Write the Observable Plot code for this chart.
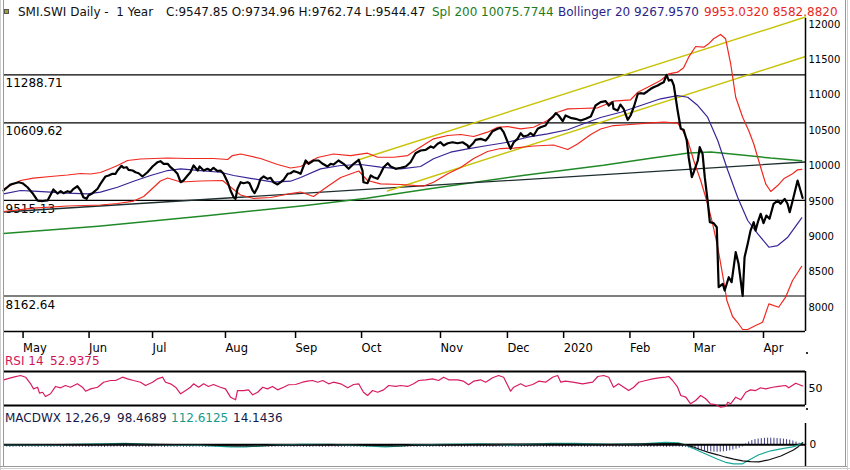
<!DOCTYPE html>
<html><head><meta charset="utf-8">
<script src="https://cdn.jsdelivr.net/npm/d3@7"></script>
<script src="https://cdn.jsdelivr.net/npm/@observablehq/plot@0.6"></script>
<style>
body{margin:0;background:#fff;}
#wrap{position:relative;width:850px;height:470px;overflow:hidden;background:#fff;font-family:"DejaVu Sans",sans-serif;}
.t{position:absolute;white-space:pre;font-size:12px;line-height:12px;z-index:5;}
.box{position:absolute;left:0;}
.ln{position:absolute;z-index:6;}
</style></head><body><div id="wrap"></div>
<script>
// ---- data (x = trading-day index, 0 = first day shown) ----
const monthTicks = [6.2, 27.1, 47.2, 70.3, 92.5, 113.4, 138.4, 159.6, 177.4, 198.4, 218.6, 240.7];
const monthLabels = ["May","Jun","Jul","Aug","Sep","Oct","Nov","Dec","2020","Feb","Mar","Apr"];
const priceTicks = [8000, 8500, 9000, 9500, 10000, 10500, 11000, 11500, 12000];
const levels = [11288.71, 10609.62, 9515.13, 8162.64];

const close = [[0,9654],[2.2,9739],[4.8,9771],[6,9757],[7.6,9700],[9.2,9616],[10.8,9512],[12.4,9505],[14,9515],[15.8,9668],[17.1,9611],[18.1,9644],[19,9616],[20.3,9644],[21.2,9630],[22.2,9678],[23.4,9714],[24.4,9654],[25.3,9559],[26.3,9536],[26.9,9583],[28.2,9616],[29.8,9678],[30.7,9748],[32.3,9852],[33.3,9866],[34.5,9890],[35.5,9890],[36.1,9936],[37.4,10003],[38,9975],[39,9983],[39.6,9946],[40.9,9936],[41.8,9912],[42.8,9898],[44,9852],[45.6,9912],[47.2,9993],[48.8,10054],[49.7,10068],[50.7,10031],[52,10031],[52.9,9983],[53.9,9946],[55.1,9890],[56.1,9771],[57,9795],[58.3,9866],[59.2,9912],[60.2,10007],[61.5,9936],[62.1,9993],[63.4,9936],[64.6,9960],[65.6,9936],[66.5,9975],[67.8,9927],[68.7,9936],[69.7,9890],[71,9771],[71.9,9654],[72.9,9559],[73.5,9536],[74.1,9678],[75.1,9771],[76,9757],[77.3,9771],[77.9,9757],[78.9,9654],[79.5,9616],[80.5,9700],[81.4,9819],[82.4,9852],[83.6,9819],[84.6,9833],[85.5,9771],[86.8,9739],[87.8,9771],[88.7,9805],[90,9890],[90.9,9898],[91.9,9927],[93.1,9912],[94.1,9890],[95.7,10078],[96.6,10031],[98.2,10078],[99.8,10078],[101.1,10031],[102.6,9993],[103.6,10031],[104.5,10021],[106.1,10078],[107.7,10031],[109.3,9960],[110.9,10031],[112.5,10088],[113.7,9936],[114,9771],[115.3,9757],[116.3,9866],[117.2,9842],[118.5,9819],[119.4,9890],[120.4,9983],[121.7,10040],[122.6,9993],[124.2,9960],[125.8,9975],[127.4,9993],[128.9,10054],[130.5,10181],[132.1,10219],[133.7,10229],[135.3,10276],[136.2,10257],[137.5,10314],[138.4,10336],[139.4,10290],[140.7,10322],[142.2,10336],[143.8,10322],[145.4,10336],[147,10290],[147.3,10257],[148.6,10314],[149.5,10370],[151.1,10384],[152.7,10360],[153.6,10407],[154.9,10492],[156.5,10526],[157.4,10540],[158.4,10478],[159.7,10336],[160.6,10243],[161.6,10336],[162.8,10384],[163.8,10464],[164.7,10417],[166,10431],[166.9,10464],[167.9,10431],[169.2,10526],[170.1,10548],[171.7,10572],[172.7,10643],[173.9,10690],[174.9,10746],[175.8,10714],[177.1,10633],[178,10714],[179.6,10681],[181.2,10667],[182.8,10643],[184.4,10667],[186,10700],[187.5,10855],[189.1,10902],[190.7,10916],[191.7,10855],[192.9,10902],[193.2,10808],[194.5,10784],[195.4,10869],[196.4,10808],[197.7,10653],[198.6,10714],[199.6,10831],[200.9,11021],[201.8,11029],[202.8,11021],[204,11057],[205,11091],[205.9,11114],[207.2,11138],[208.1,11162],[209.1,11184],[210,11289],[210.7,11208],[211.6,11218],[212.3,11138],[213.5,10784],[214.5,10526],[215.4,10512],[216.4,10360],[217,10124],[218,9842],[218.6,9912],[219.9,10078],[220.5,10266],[221.4,10172],[222.1,9842],[223,9512],[223.7,9206],[224.9,9192],[225.9,9135],[226.5,8287],[227.8,8335],[228.4,8240],[229.7,8428],[230.6,8358],[231.9,8782],[232.8,8618],[234.1,8163],[234.7,8711],[235.7,8900],[236.6,9088],[237.6,9206],[238.2,9088],[238.9,9206],[239.8,9324],[240.7,9192],[241.6,9300],[242.6,9254],[243.9,9466],[245.2,9512],[246.1,9466],[247.4,9536],[248.3,9466],[249,9347],[250.2,9559],[251.5,9795],[253.1,9548]];

const bbUpper = [[0,9675],[5.4,9795],[9.5,9830],[14.9,9852],[20.3,9873],[24.4,9894],[27.6,9887],[30.7,9908],[33.9,9965],[36.1,10007],[39.3,10078],[43.4,10099],[52,10113],[58.3,10106],[66.5,10106],[71,10092],[72.5,10148],[75.1,10170],[81.4,10106],[86.8,10021],[90.9,9972],[94.1,9993],[99.5,10120],[104.5,10170],[109.9,10148],[115.3,10181],[118.5,10124],[123.6,10124],[128,10148],[131.2,10243],[136.2,10384],[140.7,10431],[144.8,10445],[148.9,10417],[153.3,10478],[156.5,10548],[159.7,10558],[163.8,10526],[167.9,10548],[172.3,10643],[175.5,10760],[178.7,10808],[182.8,10813],[188.2,10823],[193.2,10916],[198.6,10936],[200.9,11043],[204,11114],[208.1,11208],[210.7,11303],[213.5,11326],[215.4,11388],[217,11538],[219.2,11689],[221.8,11679],[223.3,11727],[224.9,11798],[227.1,11859],[228.7,11798],[230.3,11445],[231.9,10972],[234.1,10690],[236,10502],[237.6,10314],[239.8,9983],[241.4,9748],[243,9640],[245.2,9724],[247.1,9819],[249.9,9890],[251.5,9946],[252.8,9953]];

const bbLower = [[0,9357],[9.5,9406],[20.3,9435],[30.7,9449],[36.1,9470],[41.2,9505],[44.4,9569],[47.5,9696],[49.7,9788],[52,9830],[56.1,9774],[62.4,9788],[69.4,9795],[71.9,9703],[75.1,9590],[79.2,9541],[84.6,9555],[90.9,9611],[94.1,9633],[98.2,9569],[102.6,9710],[106.8,9837],[112.5,9929],[115.3,9795],[119.4,9748],[125.8,9739],[133.1,9717],[136.2,9771],[140.7,9890],[144.8,9979],[148.9,10106],[153.3,10205],[157.4,10247],[161.6,10254],[167.9,10283],[174.2,10297],[178.7,10233],[181.8,10311],[186,10445],[189.1,10523],[193.2,10572],[198.6,10587],[204,10605],[209.1,10619],[213.5,10605],[215.1,10502],[216.7,10360],[218.6,10078],[220.8,9795],[223,9466],[224.6,9183],[226.2,8852],[227.8,8452],[229.1,8099],[230.9,7873],[232.5,7788],[234.1,7689],[235.7,7689],[238.2,7746],[240.4,7792],[242.4,8052],[245.5,8004],[247.7,8146],[249.9,8382],[252.8,8583]];

const bbMiddle = [[0,9607],[5.4,9654],[9.5,9644],[14.9,9630],[20.3,9616],[26.6,9607],[30.7,9630],[36.1,9700],[41.2,9785],[46.6,9866],[52,9936],[56.1,9960],[62.4,9936],[68.7,9912],[72.9,9866],[79.2,9819],[85.5,9771],[90.9,9785],[94.1,9837],[100.4,9960],[106.8,10007],[113.1,10021],[119.4,9983],[125.8,9960],[132.1,9993],[136.2,10102],[141.6,10195],[147,10243],[153.3,10290],[159.7,10336],[166,10407],[172.3,10455],[178.7,10512],[185,10619],[189.1,10686],[195.5,10760],[201.8,10855],[208.1,10950],[213.5,10996],[216.7,10972],[219.9,10855],[223,10690],[226.2,10360],[229.4,9936],[232.5,9559],[235.7,9230],[238.9,9042],[242.4,8852],[245.2,8876],[248.4,8994],[252.8,9268]];

const sma200 = [[0,9046],[30,9150],[65,9300],[95,9440],[115,9545],[135,9680],[165,9870],[190,10010],[205,10110],[217,10185],[224,10198],[233,10160],[243,10112],[252.8,10076]];

const trendBlack = [[0,9350],[254,10057]];
const trendYellowUpper = [[112.5,10088],[254,12106]];
const trendYellowLower = [[121.6,9647],[254,11548]];

const rsi = [[0,60.2],[3.2,63.3],[5.4,65.3],[7,63.3],[8.6,55.5],[9.5,49.6],[10.8,51.5],[11.4,44.5],[12.4,45.6],[13.3,40.6],[14.9,43.8],[16.5,52.4],[18.1,50.8],[19.6,53.5],[21.2,51.5],[23.4,55.5],[25,51.5],[26,46.8],[27.6,49.6],[29.8,51.5],[31.7,57.4],[33.9,59.4],[35.5,59.4],[37.7,63.3],[39.3,61.4],[41.2,59.4],[43.4,57.4],[45,53.5],[47.2,57.4],[48.8,61.4],[50.4,63.3],[51.3,57.4],[52.9,55.5],[54.5,51.5],[56.1,43.8],[57.7,47.6],[59.2,51.5],[60.2,55.5],[61.8,51.5],[63.4,55.5],[64.9,52.4],[66.5,54.7],[68.7,51.5],[70.3,49.6],[71.9,39.8],[73.5,36.7],[74.1,47.6],[76,47.6],[77.6,48.4],[78.9,42.6],[80.5,45.6],[82.1,51.5],[83.6,49.6],[85.2,52.4],[86.8,48.4],[88.7,51.5],[90.3,54.4],[92.5,54.7],[94.7,57.4],[96.3,58.6],[97.9,59.4],[99.5,57.4],[101.1,59.4],[103,55.5],[104.5,57.4],[106.8,55.5],[109,50.8],[110.9,54.7],[112.5,55.5],[114,45.6],[115.3,41.8],[116.9,47.6],[118.5,45.6],[120.4,48.4],[122,53.5],[124.2,52.4],[125.8,53.5],[128,52.4],[129.9,55.5],[131.5,59.4],[133.7,60.2],[135.9,61.4],[137.8,59.4],[139.4,63.3],[141,60.2],[143.8,60.2],[145.7,58.6],[147.3,54.4],[148.9,58.6],[151.1,60.2],[152.7,57.4],[154.9,62.6],[156.8,65.3],[158.4,63.3],[159.7,53.5],[160.6,46.8],[161.6,51.5],[163.8,55.5],[165.4,52.4],[167.6,54.7],[169.5,58.6],[171.7,57.4],[173.9,63.3],[175.5,65.3],[176.5,57.4],[178,58.6],[180.3,57.4],[183.4,55.5],[186.6,57.4],[188.2,64.1],[190.1,65.3],[191.7,63.3],[193.2,51.5],[194.8,55.5],[196.1,52.4],[198,47.6],[199.6,51.5],[201.2,57.4],[203.4,59.4],[205.6,61.4],[207.5,62.6],[209.7,63.3],[210.7,64.1],[211.9,59.4],[213.5,51.5],[214.5,41.8],[216.1,39.8],[217.6,32],[219.2,35.9],[220.8,41.8],[222.4,37.9],[223.9,32],[225.5,31.2],[227.1,28],[228.7,28.8],[229.4,33.9],[230.3,32],[231.9,39.8],[233.5,36.7],[235.1,45.6],[236.6,48.4],[238.2,47.6],[239.8,50.8],[241.4,49.6],[243.6,51.5],[245.5,52.4],[247.7,53.5],[248.7,50.8],[250.9,56.2],[253.1,52.94]];

const macdTeal = [[0,0],[14.9,0],[30.7,50],[38.6,75],[46.6,25],[62.4,-25],[71.9,-100],[76.7,-100],[84.6,-25],[94.1,25],[103.6,25],[114.7,-50],[121,-100],[128.9,-25],[138.4,25],[151.1,50],[160.6,0],[173.3,75],[181.2,75],[192.3,25],[201.8,50],[209.7,125],[213.8,100],[216.1,-25],[218.3,-175],[220.8,-350],[223.3,-525],[226.2,-725],[228.7,-875],[231.3,-950],[234.1,-950],[236,-775],[239.2,-500],[243,-300],[246.2,-200],[249.9,-100],[251.5,-30],[253.1,112.61]];

const macdBlack = [[0,0],[30.7,25],[38.6,50],[46.6,25],[62.4,0],[73.5,-50],[79.8,-60],[87.8,-20],[103.6,10],[119.4,-40],[124.2,-60],[132.1,-20],[151.1,25],[176.5,40],[192.3,20],[209.7,60],[213.8,60],[216.1,0],[218.3,-100],[220.8,-250],[223.3,-380],[226.2,-500],[228.7,-620],[231.3,-720],[234.1,-800],[236.6,-840],[239.2,-850],[242,-770],[246.2,-560],[250.2,-260],[251.8,-80],[253.1,98.47]];

// histogram, one value per trading day (day 0 .. 253)
const macdHist = [
 -120,-110,-130,-120,-110,-120,-130,-120,-110,-120,-120,-130,-110,-120,-120,-130,-120,-110,
 -130,-120,-110,-120,-130,-120,-120,-110,-120,-130,-120,-110,-120,-120,-130,-110,-120,-120,
 -110,-120,-130,-120,-120,-110,-130,-120,-110,-120,-120,-130,-120,-110,-120,-130,-120,-120,
 -120,-130,-110,-120,-120,-130,-120,-110,-120,-120,-130,-120,-110,-130,-120,-120,-110,-120,
 -130,-120,-110,-120,-120,-130,-110,-120,-130,-120,-120,-110,-120,-130,-120,-110,-120,-120,
 -110,-120,-130,-120,-110,-120,-120,-130,-120,-110,-120,-130,-120,-120,-110,-120,-130,-120,
 -120,-110,-120,-130,-120,-120,-110,-130,-120,-110,-120,-120,-130,-120,-110,-120,-130,-120,
 -130,-120,-110,-120,-120,-130,-120,-110,-120,-130,-120,-110,-120,-120,-130,-110,-120,-120,
 -110,-130,-120,-120,-110,-120,-130,-120,-110,-120,-120,-130,-120,-110,-130,-120,-120,-110,
 -120,-120,-130,-110,-120,-120,-130,-120,-110,-120,-130,-120,-120,-110,-120,-130,-120,-110,
 -130,-120,-110,-120,-120,-130,-120,-110,-120,-130,-120,-120,-110,-120,-130,-120,-110,-120,
 -120,-110,-120,-130,-120,-110,-120,-120,-130,-120,-110,-120,-130,-120,-120,-110,-120,-130,
 -130,-160,-200,-240,-270,-300,-320,-340,-355,-365,-370,-365,-350,-330,-300,-260,-220,-170,-110,
 40,140,210,260,290,310,325,330,330,325,315,300,285,260,230,190,140,80,14.14
];

// ---- rendering ----
const wrap = document.getElementById("wrap");
const xDomain = [0, 254];
const font = {fontFamily: "DejaVu Sans", color: "#000", background: "transparent"};
const col = {bb: "#f0281e", mid: "#3a2496", sma: "#218a28", trend: "#1e2e2e", yel: "#c8c40a", rsi: "#d81b60", teal: "#18a898", hist: "#3a3a80"};
const P = d => d[0], V = d => d[1];
const tickLabel = new Map(monthTicks.map((t, i) => [t, monthLabels[i]]));

const main = Plot.plot({
  width: 850, height: 360,
  marginLeft: 3, marginRight: 45, marginTop: 5, marginBottom: 29,
  x: {domain: xDomain},
  y: {domain: [7661, 12268.6]},
  style: font,
  marks: [
    Plot.ruleY(levels, {stroke: "#000", strokeWidth: 1.2}),
    Plot.text(levels, {x: 0, y: d => d, text: d => d.toFixed(2), textAnchor: "start", lineAnchor: "top", dx: 2, dy: 4, fontSize: 12, fill: "#000"}),
    Plot.line(sma200, {x: P, y: V, stroke: col.sma, strokeWidth: 1.5}),
    Plot.line(trendBlack, {x: P, y: V, stroke: col.trend, strokeWidth: 1.3}),
    Plot.line(trendYellowUpper, {x: P, y: V, stroke: col.yel, strokeWidth: 1.4}),
    Plot.line(trendYellowLower, {x: P, y: V, stroke: col.yel, strokeWidth: 1.4}),
    Plot.line(bbUpper, {x: P, y: V, stroke: col.bb, strokeWidth: 1.2}),
    Plot.line(bbLower, {x: P, y: V, stroke: col.bb, strokeWidth: 1.2}),
    Plot.line(bbMiddle, {x: P, y: V, stroke: col.mid, strokeWidth: 1.2}),
    Plot.line(close, {x: P, y: V, stroke: "#000", strokeWidth: 2.2}),
    Plot.ruleY([7661], {stroke: "#000", strokeWidth: 1.5}),
    Plot.ruleX([254], {y1: 7661, y2: 12085, stroke: "#000", strokeWidth: 1.5}),
    Plot.axisX({ticks: monthTicks, tickFormat: d => tickLabel.get(d), tickSize: 7, tickPadding: 5, textAnchor: "start", fontSize: 11.5, strokeWidth: 1.5, label: null}),
    Plot.axisY({anchor: "right", ticks: priceTicks, tickFormat: d => String(d), tickSize: 0, tickPadding: 3, fontSize: 10, label: null})
  ]
});

const rsiPlot = Plot.plot({
  width: 850, height: 50,
  marginLeft: 3, marginRight: 45, marginTop: 11, marginBottom: 5,
  x: {domain: xDomain, axis: null},
  y: {domain: [30, 70]},
  style: font,
  marks: [
    Plot.ruleY([30, 70], {stroke: "#000", strokeWidth: 2}),
    Plot.ruleX([254], {y1: 30, y2: 70, stroke: "#000", strokeWidth: 1.5}),
    Plot.line(rsi, {x: P, y: V, stroke: col.rsi, strokeWidth: 1.2}),
    Plot.axisY({anchor: "right", ticks: [50], tickSize: 0, tickPadding: 3, fontSize: 11, label: null})
  ]
});

const macdPlot = Plot.plot({
  width: 850, height: 60,
  marginLeft: 3, marginRight: 45, marginTop: 10.3, marginBottom: 1.7,
  x: {domain: xDomain, axis: null},
  y: {domain: [-1200, 1200]},
  style: font,
  marks: [
    Plot.ruleX(macdHist, {x: (d, i) => i, y1: 0, y2: d => d, stroke: col.hist, strokeWidth: 1}),
    Plot.ruleY([0], {stroke: "#000", strokeWidth: 2}),
    Plot.line(macdTeal, {x: P, y: V, stroke: col.teal, strokeWidth: 1.2}),
    Plot.line(macdBlack, {x: P, y: V, stroke: "#111", strokeWidth: 1.2}),
    Plot.ruleX([254], {y1: -1085, y2: 1065, stroke: "#000", strokeWidth: 1.5}),
    Plot.axisY({anchor: "right", ticks: [0], tickSize: 0, tickPadding: 4, fontSize: 10.5, label: null})
  ]
});

function place(el, top) { const d = document.createElement("div"); d.className = "box"; d.style.top = top + "px"; d.appendChild(el); wrap.appendChild(d); }
place(main, 0); place(rsiPlot, 360); place(macdPlot, 410);

function txt(s, left, top, color) { const d = document.createElement("div"); d.className = "t"; d.textContent = s; d.style.left = left + "px"; d.style.top = top + "px"; d.style.color = color; wrap.appendChild(d); }
txt("SMI.SWI Daily -  1 Year", 18, 6, "#111");
txt("C:9547.85 O:9734.96 H:9762.74 L:9544.47", 166, 6, "#111");
txt("Spl 200 10075.7744", 432, 6, "#1e7b1e");
txt("Bollinger 20 9267.9570", 558, 6, "#2e1f8a");
txt("9953.0320 8582.8820", 704, 6, "#e8281e");
txt("RSI 14", 5, 355, "#d0145a");
txt("52.9375", 50, 355, "#d0145a");
txt("MACDWX 12,26,9", 5, 411.5, "#141a4a");
txt("98.4689", 117, 411.5, "#141a4a");
txt("112.6125", 171, 411.5, "#149a8c");
txt("14.1436", 233, 411.5, "#141a4a");

function rect(l, t, w, h, c, extra) { const d = document.createElement("div"); d.className = "ln"; Object.assign(d.style, {left: l + "px", top: t + "px", width: w + "px", height: h + "px", background: c}, extra || {}); wrap.appendChild(d); }
rect(4, 9, 3, 3, "#a0a030", {border: "1px solid #555"});
rect(0, 0, 1, 470, "#cfcfcf");
rect(3, 0, 1, 467, "#9a9a9a");
rect(0, 466, 848, 1, "#9a9a9a");
rect(0, 468, 850, 1, "#cfcfcf");
rect(845, 0, 1, 467, "#9a9a9a");
rect(847, 0, 1, 470, "#cfcfcf");
rect(806, 352, 2, 2, "#333");
rect(806, 408, 2, 2, "#333");
</script></body></html>
